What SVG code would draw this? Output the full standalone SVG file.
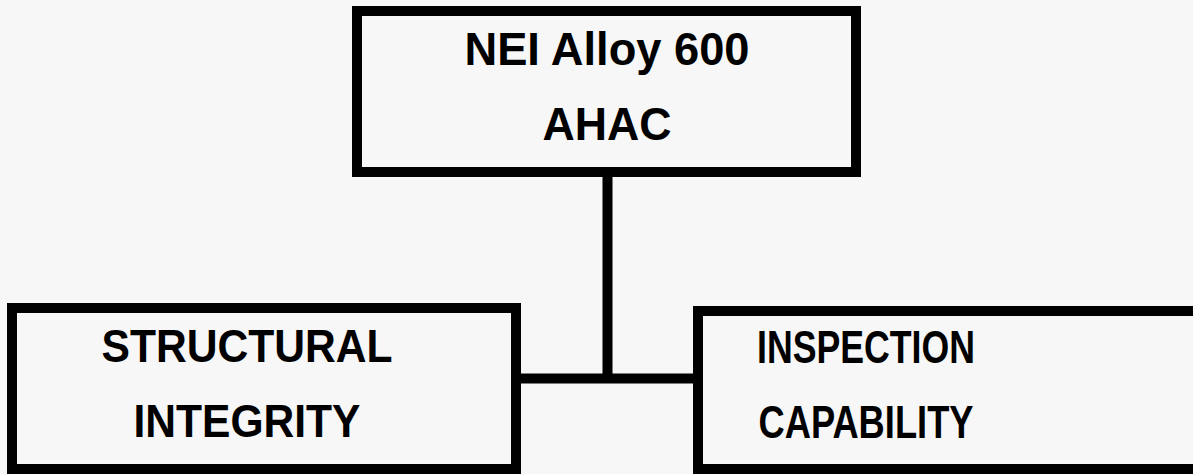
<svg xmlns="http://www.w3.org/2000/svg" width="1193" height="474" viewBox="0 0 1193 474">
<style>
.box{fill:none;stroke:#000;stroke-width:10}
.lbl{font-family:"Liberation Sans",Arial,sans-serif;font-weight:bold;font-size:47px;fill:#000;text-anchor:middle}
.conn{stroke:#000;stroke-width:10;fill:none}
</style>
<rect width="1193" height="474" fill="#f7f7f7"/>
<g id="connectors">
<line class="conn" x1="607.5" y1="172" x2="607.5" y2="383"/>
<line class="conn" x1="516" y1="378.5" x2="698" y2="378.5"/>
</g>
<g id="node-ahac">
<rect class="box" x="357" y="11" width="499" height="161"/>
<text class="lbl" x="607" y="65" textLength="285" lengthAdjust="spacingAndGlyphs">NEI Alloy 600</text>
<text class="lbl" x="607" y="140" textLength="129" lengthAdjust="spacingAndGlyphs">AHAC</text>
</g>
<g id="node-structural">
<rect class="box" x="12" y="308" width="504" height="161"/>
<text class="lbl" x="247" y="362" textLength="291" lengthAdjust="spacingAndGlyphs">STRUCTURAL</text>
<text class="lbl" x="247" y="437" textLength="227" lengthAdjust="spacingAndGlyphs">INTEGRITY</text>
</g>
<g id="node-inspection">
<rect class="box" x="698" y="311" width="520" height="158"/>
<text class="lbl" x="866" y="363" textLength="218" lengthAdjust="spacingAndGlyphs">INSPECTION</text>
<text class="lbl" x="866" y="438" textLength="215" lengthAdjust="spacingAndGlyphs">CAPABILITY</text>
</g>
</svg>
